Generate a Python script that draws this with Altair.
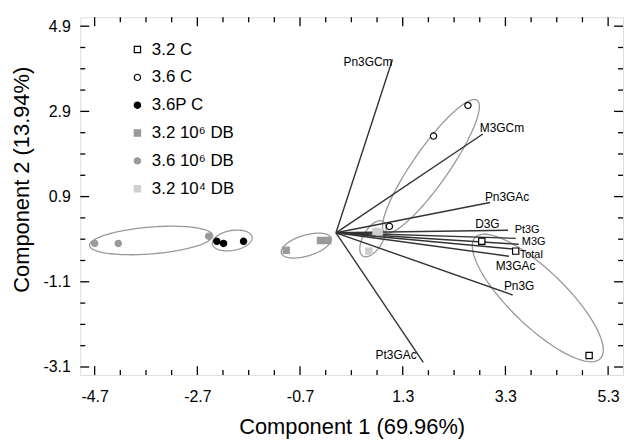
import altair as alt
import pandas as pd
import numpy as np

FONT = "Liberation Sans"

# ---- variable loadings (vectors from the origin) ----
origin_x = 0.0
origin_y = 0.05
var_names = ["Pn3GCm", "M3GCm", "Pn3GAc", "D3G", "Pt3G", "M3G", "Total", "M3GAc", "Pn3G", "Pt3GAc"]
var_x = [1.10, 2.86, 3.00, 3.35, 3.50, 3.56, 3.54, 3.37, 3.44, 1.70]
var_y = [4.12, 2.37, 0.76, 0.11, -0.08, -0.22, -0.34, -0.50, -1.41, -2.99]

# label anchor points (data units), alignment and size
label_x = [1.10, 2.80, 2.90, 2.71, 3.48, 3.62, 3.58, 3.11, 3.27, 1.57]
label_y = [4.07, 2.51, 0.88, 0.25, 0.11, -0.17, -0.46, -0.74, -1.21, -2.83]
label_align = ["right", "left", "left", "left", "left", "left", "left", "left", "left", "right"]
label_size = [12, 12, 12, 12, 11, 11, 11, 12, 12, 12]

# ---- sample scores ----
groups = ["3.2 C", "3.6 C", "3.6P C", "3.2 10\u2076 DB", "3.6 10\u2076 DB", "3.2 10\u2074 DB"]
shapes = ["square", "circle", "circle", "square", "circle", "square"]
fills = ["white", "white", "black", "#9a9a9a", "#9a9a9a", "#cfcfcf"]
strokes = ["black", "black", "black", "#9a9a9a", "#9a9a9a", "#cfcfcf"]

pts_group = ["3.2 C"] * 3 + ["3.6 C"] * 3 + ["3.6P C"] * 3 + ["3.2 10\u2076 DB"] * 3 \
    + ["3.6 10\u2076 DB"] * 3 + ["3.2 10\u2074 DB"] * 3
pts_x = [2.84, 3.50, 4.93,
         2.57, 1.90, 1.04,
         -2.32, -2.19, -1.80,
         -0.97, -0.30, -0.16,
         -4.70, -4.24, -2.48,
         0.78, 0.84, 0.64]
pts_y = [-0.15, -0.38, -2.83,
         3.04, 2.32, 0.20,
         -0.15, -0.20, -0.15,
         -0.36, -0.13, -0.13,
         -0.20, -0.20, -0.03,
         0.08, 0.07, -0.38]

# ---- confidence ellipses: centre and two conjugate semi-axis vectors (data units) ----
ell_cx = [-3.60, -2.02, -0.58, 0.72, 1.85, 3.93]
ell_cy = [-0.13, -0.13, -0.25, -0.09, 1.61, -1.48]
ell_ux = [1.199, 0.387, 0.484, 0.193, 0.899, 1.219]
ell_uy = [0.117, 0.082, 0.175, 0.408, 1.550, -1.422]
ell_vx = [0.021, 0.033, 0.058, 0.168, 0.285, -0.377]
ell_vy = [-0.314, -0.230, -0.234, -0.115, -0.241, -0.469]

# ---- axis ticks ----
x_major = [-4.7, -2.7, -0.7, 1.3, 3.3, 5.3]
x_minor = [-4.2, -3.7, -3.2, -2.2, -1.7, -1.2, -0.2, 0.3, 0.8, 1.8, 2.3, 2.8, 3.8, 4.3, 4.8]
y_major = [-3.1, -1.1, 0.9, 2.9, 4.9]
y_minor = [-2.6, -2.1, -1.6, -0.6, -0.1, 0.4, 1.4, 1.9, 2.4, 3.4, 3.9, 4.4]

W, H = 546, 360
MAJ, MIN = 9, 5

# ---------------- build tables ----------------
vec_df = pd.DataFrame({"name": var_names, "x": origin_x, "y": origin_y, "xe": var_x, "ye": var_y})
lab_df = pd.DataFrame({"name": var_names, "x": label_x, "y": label_y,
                       "align": label_align, "size": label_size})
pts_df = pd.DataFrame({"g": pts_group, "x": pts_x, "y": pts_y})

t = np.linspace(0, 2 * np.pi, 121)
rows = []
for i in range(len(ell_cx)):
    for k, tt in enumerate(t):
        rows.append({
            "e": i, "o": k,
            "x": ell_cx[i] + ell_ux[i] * np.cos(tt) + ell_vx[i] * np.sin(tt),
            "y": ell_cy[i] + ell_uy[i] * np.cos(tt) + ell_vy[i] * np.sin(tt),
        })
ell_df = pd.DataFrame(rows)

xs = alt.Scale(domain=[-4.98, 5.59], nice=False, zero=False)
ys = alt.Scale(domain=[-3.29, 5.11], nice=False, zero=False)

lab_expr = "replace(format(datum.value, '.1f'), '\u2212', '-')"
xaxis = alt.Axis(values=x_major, labelExpr=lab_expr, ticks=False, tickSize=0, domain=False, grid=False,
                 labelFont=FONT, labelFontSize=16, labelColor="black", labelPadding=14,
                 title="Component 1 (69.96%)", titleFont=FONT, titleFontSize=22,
                 titleFontWeight="normal", titleColor="black",
                 titleBaseline="alphabetic", titleY=59)
yaxis = alt.Axis(values=y_major, labelExpr=lab_expr, ticks=False, tickSize=0, domain=False, grid=False,
                 labelFont=FONT, labelFontSize=16, labelColor="black", labelPadding=10,
                 title="Component 2 (13.94%)", titleFont=FONT, titleFontSize=22,
                 titleFontWeight="normal", titleColor="black",
                 titleAngle=270, titleAlign="center", titleBaseline="alphabetic",
                 titleX=-52, titleY=163)

X = lambda f="x": alt.X(f"{f}:Q", scale=xs, axis=xaxis)
Y = lambda f="y": alt.Y(f"{f}:Q", scale=ys, axis=yaxis)

ellipses = alt.Chart(ell_df).mark_line(color="#999999", strokeWidth=1.3).encode(
    x=X(), y=Y(), detail="e:N", order="o:Q")

vectors = alt.Chart(vec_df).mark_rule(color="#333333", strokeWidth=1.4).encode(
    x=X(), y=Y(), x2="xe:Q", y2="ye:Q")

labels_l = alt.Chart(lab_df[lab_df["align"] == "left"]).mark_text(
    align="left", baseline="middle", font=FONT, color="black").encode(
    x=X(), y=Y(), text="name:N", size=alt.Size("size:Q", scale=None, legend=None))
labels_r = alt.Chart(lab_df[lab_df["align"] == "right"]).mark_text(
    align="right", baseline="middle", font=FONT, color="black").encode(
    x=X(), y=Y(), text="name:N", size=alt.Size("size:Q", scale=None, legend=None))

legend = alt.Legend(title=None, orient="none", legendX=49, legendY=24, padding=0,
                    labelFont=FONT, labelFontSize=17, labelColor="black",
                    symbolSize=40, symbolStrokeWidth=1.2, rowPadding=10, labelOffset=6)
points = alt.Chart(pts_df).mark_point(filled=True, size=40, strokeWidth=1.2, opacity=1).encode(
    x=X(), y=Y(),
    shape=alt.Shape("g:N", scale=alt.Scale(domain=groups, range=shapes), legend=legend),
    fill=alt.Fill("g:N", scale=alt.Scale(domain=groups, range=fills), legend=legend),
    stroke=alt.Stroke("g:N", scale=alt.Scale(domain=groups, range=strokes), legend=legend),
)

def tick_layer(vals, orient, length):
    if orient in ("bottom", "top"):
        df = pd.DataFrame({"x": vals})
        if orient == "bottom":
            yy, yy2 = H, H - length
        else:
            yy, yy2 = 0, length
        return alt.Chart(df).mark_rule(color="black", strokeWidth=1.3).encode(
            x=X(), y=alt.value(yy), y2=alt.value(yy2))
    df = pd.DataFrame({"y": vals})
    if orient == "left":
        xx, xx2 = 0, length
    else:
        xx, xx2 = W, W - length
    return alt.Chart(df).mark_rule(color="black", strokeWidth=1.3).encode(
        y=Y(), x=alt.value(xx), x2=alt.value(xx2))

ticks = [tick_layer(x_major, o, MAJ) for o in ("bottom", "top")] + \
        [tick_layer(x_minor, o, MIN) for o in ("bottom", "top")] + \
        [tick_layer(y_major, o, MAJ) for o in ("left", "right")] + \
        [tick_layer(y_minor, o, MIN) for o in ("left", "right")]

chart = alt.layer(ellipses, vectors, labels_l, labels_r, *ticks, points).properties(
    width=W, height=H,
    autosize=alt.AutoSizeParams(type="none"),
    padding={"left": 72.7, "top": 8, "right": 1, "bottom": 64},
).configure_view(stroke="black", strokeWidth=1.6).configure(background="white")

chart.save("out.html", embed_options={"renderer": "svg", "actions": False})
